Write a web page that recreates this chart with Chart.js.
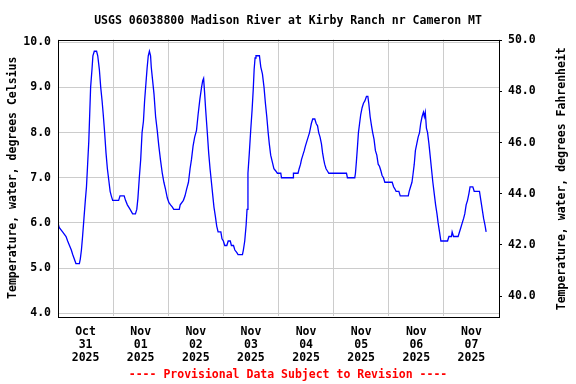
<!DOCTYPE html>
<html>
<head>
<meta charset="utf-8">
<script src="https://cdn.jsdelivr.net/npm/chart.js@4"></script>
<style>
  html, body { margin: 0; padding: 0; background: #fff; }
  canvas { display: block; }
</style>
</head>
<body>
<canvas id="canvas" width="576" height="384"></canvas>
<script>
const titleText = 'USGS 06038800 Madison River at Kirby Ranch nr Cameron MT';
const noteText = '---- Provisional Data Subject to Revision ----';
const yTitleLeft = 'Temperature, water, degrees Celsius';
const yTitleRight = 'Temperature, water, degrees Fahrenheit';

// hours since Oct 31 2025 00:00
const hours = [0, 0.5, 2, 3.5, 4.2, 5, 5.8, 6.4, 7.1, 7.8, 9.3, 9.7, 10.2, 10.7, 11.3, 11.9, 12.4, 12.9, 13.4, 13.8,
  14.2, 14.8, 15.2, 15.8, 16.8, 17.3, 18, 18.6, 19.2, 19.7, 20.3, 20.9, 21.5, 22.1, 22.7, 23.2, 23.8, 26.4, 27, 28.8,
  29.4, 30.2, 31.4, 32.5, 33.7, 34.3, 34.8, 35.4, 36, 36.6, 37.2, 37.7, 38.3, 38.8, 39.3, 39.8, 40.3, 40.6, 41.1, 41.8,
  42.5, 43.2, 43.9, 44.6, 45.4, 46.1, 46.8, 47.6, 48.3, 49, 49.8, 50.4, 52.8, 53.2, 54.6, 55.3, 56, 56.8, 57.5, 58.1,
  58.8, 59.5, 60.3, 61, 61.8, 62.5, 63, 63.4, 63.8, 64.3, 65, 65.6, 66.2, 66.8, 67.4, 67.9, 68.5, 69.1, 69.7, 70.9,
  71.4, 72, 72.6, 73.5, 74.1, 75, 75.5, 76.4, 77, 77.8, 78.4, 80.3, 80.7, 81.3, 81.9, 82.3, 82.7, 83.3, 83.9, 84.5,
  85, 85.4, 85.8, 86.2, 87.7, 88.3, 89, 89.7, 90.3, 90.9, 91.5, 92, 92.6, 93.3, 94, 94.8, 95.5, 97, 97.3, 102.4,
  102.5, 104.5, 105, 105.6, 106, 106.6, 107.2, 107.7, 108.3, 108.9, 109.5, 109.9, 110.3, 110.9, 111.8, 112.4, 113, 113.5, 114.1, 114.7,
  115.2, 115.7, 116.1, 116.7, 117.3, 117.9, 125.6, 126, 129.2, 129.5, 129.9, 130.4, 130.8, 131.3, 131.8, 132.4, 133, 133.6, 134.3, 134.9,
  135.3, 135.9, 136.5, 137, 137.6, 138.2, 138.8, 139.4, 140, 140.6, 141.1, 141.7, 142.3, 145.5, 146.1, 146.7, 147.2, 148.4, 149, 152.5,
  152.9, 153.5, 154.1, 154.5, 155.1, 155.6, 156.2, 156.8, 157.4, 157.9, 158.5, 159.1, 159.5, 159.9, 160.4, 160.9, 161.5, 162, 162.6, 163.2,
  163.8, 164.4, 165, 165.5, 166.1, 166.7, 169.6, 170.2, 171.3, 171.6, 172.2, 174.2, 174.8, 175.4, 176, 176.6, 177.1, 177.7, 178.3, 178.9,
  179.4, 180.6, 181.2, 183.5, 184.1, 184.7, 185.3, 185.9, 186.4];
const tempC = [6.0, 5.9, 5.8, 5.7, 5.6, 5.5, 5.4, 5.3, 5.2, 5.1, 5.1, 5.2, 5.4, 5.7, 6.1, 6.5, 6.8, 7.3, 7.8, 8.4,
  9.0, 9.4, 9.7, 9.8, 9.8, 9.7, 9.4, 9.0, 8.7, 8.4, 8.0, 7.55, 7.2, 6.95, 6.7, 6.6, 6.5, 6.5, 6.6, 6.6,
  6.5, 6.4, 6.3, 6.2, 6.2, 6.3, 6.55, 7.0, 7.4, 8.0, 8.25, 8.7, 9.1, 9.43, 9.7, 9.8, 9.7, 9.45, 9.2, 8.85,
  8.35, 8.05, 7.7, 7.4, 7.1, 6.9, 6.75, 6.55, 6.45, 6.4, 6.35, 6.3, 6.3, 6.4, 6.5, 6.6, 6.75, 6.9, 7.2, 7.4,
  7.7, 7.9, 8.05, 8.4, 8.75, 9.0, 9.15, 9.2, 8.9, 8.5, 8.0, 7.55, 7.2, 6.9, 6.6, 6.35, 6.15, 5.93, 5.8, 5.8,
  5.65, 5.6, 5.5, 5.5, 5.6, 5.6, 5.5, 5.5, 5.4, 5.35, 5.3, 5.3, 5.4, 5.6, 5.95, 6.3, 7.1, 7.55, 8.05, 8.5,
  8.95, 9.4, 9.65, 9.7, 9.7, 9.45, 9.3, 9.0, 8.65, 8.35, 8.0, 7.75, 7.5, 7.35, 7.2, 7.15, 7.1, 7.1, 7.0, 7.0,
  7.1, 7.1, 7.2, 7.3, 7.4, 7.5, 7.6, 7.7, 7.8, 7.9, 8.0, 8.1, 8.2, 8.3, 8.3, 8.2, 8.15, 8.0, 7.9, 7.75,
  7.55, 7.4, 7.3, 7.2, 7.15, 7.1, 7.1, 7.0, 7.0, 7.1, 7.35, 7.7, 8.0, 8.2, 8.4, 8.55, 8.65, 8.7, 8.8, 8.8,
  8.65, 8.35, 8.15, 8.0, 7.85, 7.6, 7.5, 7.3, 7.25, 7.15, 7.05, 7.0, 6.9, 6.9, 6.8, 6.75, 6.7, 6.7, 6.6, 6.6,
  6.7, 6.8, 6.9, 7.05, 7.3, 7.6, 7.75, 7.9, 8.0, 8.2, 8.35, 8.45, 8.35, 8.45, 8.1, 8.0, 7.75, 7.5, 7.2, 6.9,
  6.65, 6.4, 6.2, 6.0, 5.8, 5.6, 5.6, 5.7, 5.7, 5.8, 5.7, 5.7, 5.8, 5.9, 6.0, 6.1, 6.2, 6.4, 6.5, 6.65,
  6.8, 6.8, 6.7, 6.7, 6.5, 6.3, 6.1, 5.95, 5.8];

const dayLabels = [
  ['Oct', '31', '2025'], ['Nov', '01', '2025'], ['Nov', '02', '2025'], ['Nov', '03', '2025'],
  ['Nov', '04', '2025'], ['Nov', '05', '2025'], ['Nov', '06', '2025'], ['Nov', '07', '2025']
];
const xTicks = [0, 12, 24, 36, 48, 60, 72, 84, 96, 108, 120, 132, 144, 156, 168, 180, 192];
const celsiusTicks = [4, 5, 6, 7, 8, 9, 10];
const fahrenheitTicks = [40, 42, 44, 46, 48, 50];

const mono = "'DejaVu Sans Mono', 'Liberation Mono', monospace";
const f = { family: mono, size: 11.5, weight: 'bold' };
const grey = '#cccccc';

// box round the plot + right axis title (reads bottom to top like the left one)
const frame = {
  id: 'frame',
  afterDatasetsDraw(chart) {
    const a = chart.chartArea;
    const c = chart.ctx;
    c.save();
    c.strokeStyle = '#000';
    c.lineWidth = 1;
    c.strokeRect(Math.round(a.left) + 0.5, Math.round(a.top) + 0.5,
      Math.round(a.right - a.left), Math.round(a.bottom - a.top));
    c.translate(562, (a.top + a.bottom) / 2 + 1);
    c.rotate(-Math.PI / 2);
    c.font = 'bold 11.5px ' + mono;
    c.fillStyle = '#000';
    c.textAlign = 'center';
    c.textBaseline = 'middle';
    c.fillText(yTitleRight, 0, 0);
    c.restore();
  }
};

new Chart(document.getElementById('canvas'), {
  type: 'line',
  data: {
    datasets: [{
      data: hours.map((h, i) => ({ x: h, y: tempC[i] })),
      borderColor: '#0000ff',
      borderWidth: 1.3,
      pointRadius: 0,
      tension: 0,
      fill: false,
      yAxisID: 'y'
    }]
  },
  options: {
    responsive: false,
    devicePixelRatio: 1,
    animation: false,
    layout: { padding: 0 },
    plugins: {
      legend: { display: false },
      tooltip: { enabled: false },
      title: {
        display: true, text: titleText, color: '#000', font: f,
        padding: { top: 14, bottom: 11.7 }
      },
      subtitle: {
        display: true, text: noteText, color: '#ff0000', font: f,
        position: 'bottom', padding: { top: 6, bottom: 2 }
      }
    },
    scales: {
      x: {
        type: 'linear', min: 0, max: 192,
        afterFit: s => { s.height = 46.2; },
        afterBuildTicks: s => { s.ticks = xTicks.map(v => ({ value: v })); },
        border: { display: false },
        grid: {
          drawTicks: false,
          color: ctx => (ctx.tick && ctx.tick.value % 24 === 0) ? grey : 'rgba(0,0,0,0)'
        },
        ticks: {
          autoSkip: false, maxRotation: 0, padding: 10, color: '#000',
          font: { family: mono, size: 11.5, weight: 'bold', lineHeight: 1.13 },
          callback: v => (v % 24 === 12) ? dayLabels[(v - 12) / 24] : ''
        }
      },
      y: {
        position: 'left', min: 3.94, max: 10.06,
        afterFit: s => { s.width = 58; },
        afterBuildTicks: s => { s.ticks = celsiusTicks.map(v => ({ value: v })); },
        border: { display: false },
        grid: { color: grey, drawTicks: false },
        ticks: { padding: 7, color: '#000', font: f, callback: v => v.toFixed(1) },
        title: { display: true, text: yTitleLeft, color: '#000', font: f, padding: { top: 6, bottom: 0 } }
      },
      y1: {
        position: 'right', min: 39.22, max: 50.03,
        afterFit: s => { s.width = 77; },
        afterBuildTicks: s => { s.ticks = fahrenheitTicks.map(v => ({ value: v })); },
        border: { display: false },
        grid: { drawOnChartArea: false, drawTicks: true, tickLength: 3, color: '#000' },
        ticks: { padding: 6, color: '#000', font: f, callback: v => v.toFixed(1) }
      }
    }
  },
  plugins: [frame]
});
</script>
</body>
</html>
